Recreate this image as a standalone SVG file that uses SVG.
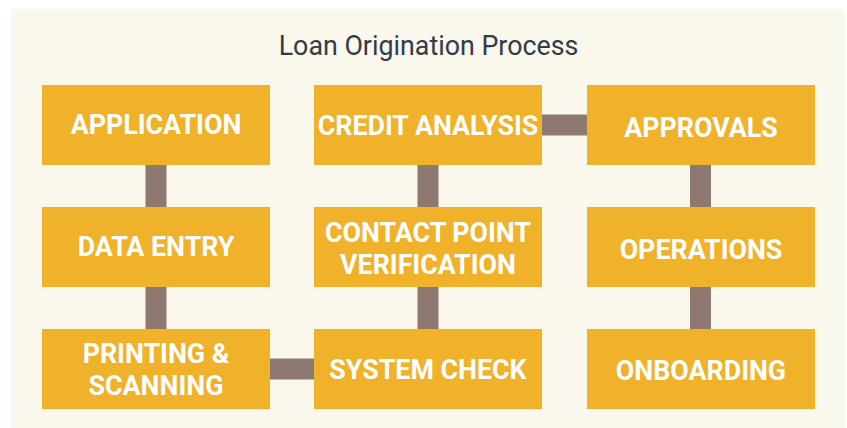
<svg xmlns="http://www.w3.org/2000/svg" width="847" height="428" viewBox="0 0 847 428">
  <style>
    .box { fill: #F0B12B; }
    .link { fill: #8D796F; }
    .label { font-family: Roboto, "Liberation Sans", sans-serif; font-weight: bold; font-size: 26.8px; fill: #FFFFFF; text-anchor: middle; }
    .title { font-family: Roboto, "Liberation Sans", sans-serif; font-size: 26.8px; fill: #343A48; text-anchor: middle; }
  </style>
  <rect x="0" y="0" width="847" height="428" fill="#FFFFFF"/>
  <rect x="11" y="9" width="834" height="430" rx="2" fill="#FAF7EC"/>
  <text class="title" x="428.5" y="55">Loan Origination Process</text>

  <!-- connectors -->
  <g id="connectors">
    <rect class="link" x="145.5" y="164" width="21" height="44"/>
    <rect class="link" x="145.5" y="286" width="21" height="44"/>
    <rect class="link" x="417.5" y="164" width="21" height="44"/>
    <rect class="link" x="417.5" y="286" width="21" height="44"/>
    <rect class="link" x="690" y="164" width="21" height="44"/>
    <rect class="link" x="690" y="286" width="21" height="44"/>
    <rect class="link" x="541" y="114.5" width="47" height="21"/>
    <rect class="link" x="269" y="358.5" width="46" height="21"/>
  </g>

  <g id="application">
    <rect class="box" x="42" y="85" width="228" height="80"/>
    <text class="label" x="156" y="134">APPLICATION</text>
  </g>
  <g id="data-entry">
    <rect class="box" x="42" y="207" width="228" height="80"/>
    <text class="label" x="156" y="256">DATA ENTRY</text>
  </g>
  <g id="printing-scanning">
    <rect class="box" x="42" y="329" width="228" height="80"/>
    <text class="label" x="156" y="363">PRINTING &amp;</text>
    <text class="label" x="156" y="395">SCANNING</text>
  </g>
  <g id="credit-analysis">
    <rect class="box" x="314" y="85" width="228" height="80"/>
    <text class="label" x="428" y="135">CREDIT ANALYSIS</text>
  </g>
  <g id="contact-point-verification">
    <rect class="box" x="314" y="207" width="228" height="80"/>
    <text class="label" x="428" y="242">CONTACT POINT</text>
    <text class="label" x="428" y="274">VERIFICATION</text>
  </g>
  <g id="system-check">
    <rect class="box" x="314" y="329" width="228" height="80"/>
    <text class="label" x="428" y="379">SYSTEM CHECK</text>
  </g>
  <g id="approvals">
    <rect class="box" x="587" y="85" width="228" height="80"/>
    <text class="label" x="701" y="137">APPROVALS</text>
  </g>
  <g id="operations">
    <rect class="box" x="587" y="207" width="228" height="80"/>
    <text class="label" x="701" y="259">OPERATIONS</text>
  </g>
  <g id="onboarding">
    <rect class="box" x="587" y="329" width="228" height="80"/>
    <text class="label" x="701" y="380">ONBOARDING</text>
  </g>
</svg>
